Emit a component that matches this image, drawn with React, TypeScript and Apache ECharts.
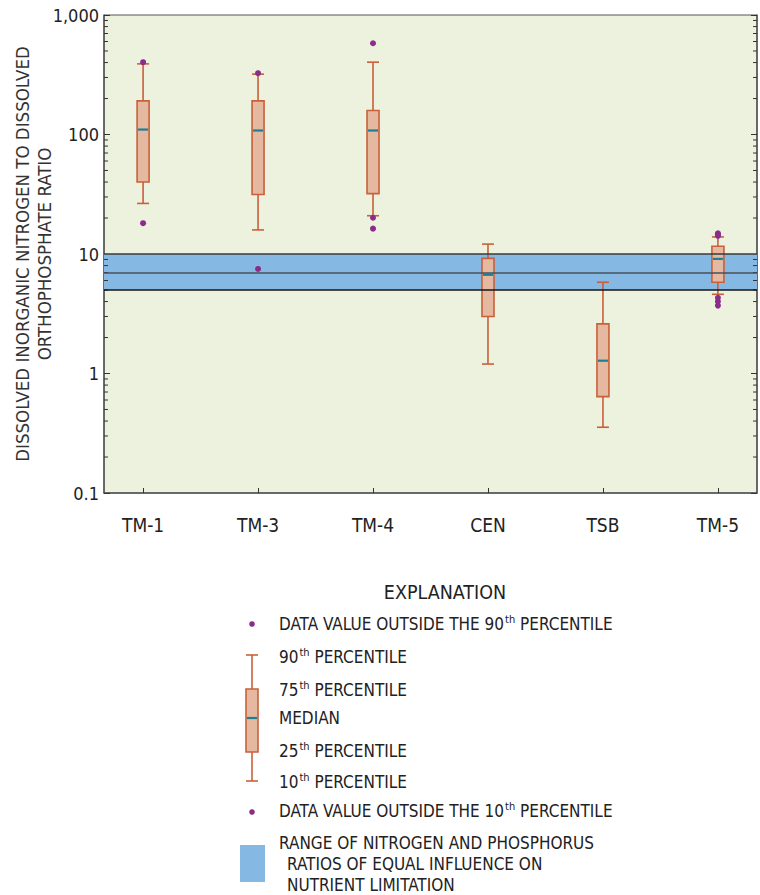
import React, { useEffect, useRef } from "react";
import * as echarts from "echarts";

const categories = ["TM-1", "TM-3", "TM-4", "CEN", "TSB", "TM-5"];
const p10 = [26.5, 15.9, 20.9, 1.2, 0.355, 4.6];
const p25 = [40, 31.5, 32, 3.0, 0.64, 5.8];
const medians = [110, 108, 108, 6.7, 1.28, 9.1];
const p75 = [191, 191, 159, 9.2, 2.6, 11.6];
const p90 = [390, 320, 403, 12.1, 5.8, 13.9];
// [category index, value]
const outliers: [number, number][] = [
  [0, 403], [0, 18.1],
  [1, 326], [1, 7.5],
  [2, 580], [2, 20.1], [2, 16.3],
  [5, 14.9], [5, 14.5], [5, 14.2], [5, 4.3], [5, 4.0], [5, 3.7],
];
const bandLow = 5;
const bandMid = 7;
const bandHigh = 10;
const yTickLabels: Record<string, string> = { "0.1": "0.1", "1": "1", "10": "10", "100": "100", "1000": "1,000" };

const FONT = "'Liberation Sans Narrow', 'DejaVu Sans Condensed', 'Roboto Condensed', 'Liberation Sans', sans-serif";
const BOX_FILL = "#e4b9a0";
const BOX_STROKE = "#c9603a";
const MEDIAN_C = "#1b7f98";
const DOT_C = "#8b2b8c";
const BAND_C = "#86b8e4";
const TXT = "#222";

const minorValues: number[] = [];
[0.1, 1, 10, 100].forEach((d) => {
  for (let m = 2; m <= 9; m++) minorValues.push(Number((m * d).toPrecision(3)));
});

export default function App() {
  const ref = useRef<HTMLDivElement>(null);
  useEffect(() => {
    if (!ref.current) return;
    const chart = echarts.init(ref.current, undefined, { renderer: "svg" });

    const boxData = categories.map((_, i) => [i + 1, p10[i], p25[i], medians[i], p75[i], p90[i]]);

    const legendX = 279;
    const sup = (a: string, b: string) => `{n|${a}}{s|th}{n|${b}}`;
    const rich = {
      n: { fontSize: 17, fontFamily: FONT, color: TXT },
      s: { fontSize: 11, fontFamily: FONT, color: TXT, padding: [0, 0, 9, 1] },
    };
    const legText = (y: number, text: string, x = legendX) => ({
      type: "text",
      x,
      y,
      style: { text, rich, font: `17px ${FONT}`, fill: TXT, textVerticalAlign: "middle", verticalAlign: "middle" },
    });

    const option: any = {
      animation: false,
      backgroundColor: "#ffffff",
      grid: {
        left: 104,
        top: 15,
        width: 653,
        height: 478,
        show: true,
        backgroundColor: "#ecf2de",
        borderColor: "#555",
        borderWidth: 1,
        containLabel: false,
        outerBoundsMode: "none",
      },
      xAxis: {
        type: "value",
        min: 0.66,
        max: 6.34,
        splitLine: { show: false },
        axisLine: { show: true, lineStyle: { color: "#555", width: 1.5 } },
        axisTick: {
          show: true,
          inside: true,
          length: 5,
          customValues: [1, 2, 3, 4, 5, 6],
          lineStyle: { color: "#333", width: 1 },
        },
        axisLabel: {
          customValues: [1, 2, 3, 4, 5, 6],
          formatter: (v: number) => categories[Math.round(v) - 1] || "",
          margin: 22,
          fontSize: 19,
          fontFamily: FONT,
          color: TXT,
        },
      },
      yAxis: [
        {
          type: "log",
          logBase: 10,
          min: 0.1,
          max: 1000,
          position: "left",
          name: "DISSOLVED INORGANIC NITROGEN TO DISSOLVED\nORTHOPHOSPHATE RATIO",
          nameLocation: "middle",
          nameRotate: 90,
          nameGap: 49,
          nameMoveOverlap: false,
          nameTextStyle: { fontSize: 18.5, fontFamily: FONT, color: "#333", lineHeight: 22 },
          splitLine: { show: false },
          axisLine: { show: true, lineStyle: { color: "#555", width: 1.5 } },
          axisTick: { show: true, inside: true, length: 6, lineStyle: { color: "#333" } },
          axisLabel: {
            formatter: (v: number) => yTickLabels[String(Number(v.toPrecision(3)))] ?? "",
            margin: 5,
            fontSize: 18,
            fontFamily: FONT,
            color: TXT,
          },
        },
        {
          type: "log",
          logBase: 10,
          min: 0.1,
          max: 1000,
          position: "right",
          splitLine: { show: false },
          axisLine: { show: true, lineStyle: { color: "#555", width: 1.5 } },
          axisTick: { show: true, inside: true, length: 6, lineStyle: { color: "#333" } },
          axisLabel: { show: false },
        },
      ],
      series: [
        {
          type: "line",
          data: [],
          z: 1,
          silent: true,
          markArea: {
            silent: true,
            itemStyle: { color: BAND_C, opacity: 1 },
            data: [[{ yAxis: bandHigh }, { yAxis: bandLow }]],
          },
          markLine: {
            silent: true,
            symbol: "none",
            label: { show: false },
            data: [
              { yAxis: bandHigh, lineStyle: { color: "#3a3a3a", width: 1.5, type: "solid" } },
              { yAxis: bandMid, lineStyle: { color: "#48515a", width: 1.5, type: "solid" } },
              { yAxis: bandLow, lineStyle: { color: "#151515", width: 1.5, type: "solid" } },
            ],
          },
        },
        {
          type: "custom",
          z: 2,
          silent: true,
          data: minorValues.map((v) => [1, v]),
          encode: { x: 0, y: 1 },
          renderItem: (params: any, api: any) => {
            const cs = params.coordSys;
            const y = api.coord([1, api.value(1)])[1];
            const style = { stroke: "#333", lineWidth: 1 };
            return {
              type: "group",
              children: [
                { type: "line", shape: { x1: cs.x, y1: y, x2: cs.x + 4, y2: y }, style },
                { type: "line", shape: { x1: cs.x + cs.width - 4, y1: y, x2: cs.x + cs.width, y2: y }, style },
              ],
            };
          },
        },
        {
          type: "custom",
          z: 3,
          data: boxData,
          encode: { x: 0, y: [1, 2, 3, 4, 5] },
          renderItem: (_params: any, api: any) => {
            const x = api.value(0);
            const pLo = api.coord([x, api.value(1)]);
            const pQ1 = api.coord([x, api.value(2)]);
            const pMed = api.coord([x, api.value(3)]);
            const pQ3 = api.coord([x, api.value(4)]);
            const pHi = api.coord([x, api.value(5)]);
            const cx = pMed[0];
            const hw = 6;
            const ws = { stroke: BOX_STROKE, lineWidth: 1.6 };
            return {
              type: "group",
              children: [
                { type: "line", shape: { x1: cx, y1: pHi[1], x2: cx, y2: pQ3[1] }, style: ws },
                { type: "line", shape: { x1: cx, y1: pQ1[1], x2: cx, y2: pLo[1] }, style: ws },
                { type: "line", shape: { x1: cx - hw, y1: pHi[1], x2: cx + hw, y2: pHi[1] }, style: ws },
                { type: "line", shape: { x1: cx - hw, y1: pLo[1], x2: cx + hw, y2: pLo[1] }, style: ws },
                {
                  type: "rect",
                  shape: { x: cx - hw, y: pQ3[1], width: hw * 2, height: pQ1[1] - pQ3[1] },
                  style: { fill: BOX_FILL, stroke: BOX_STROKE, lineWidth: 1.6 },
                },
                {
                  type: "line",
                  shape: { x1: cx - hw + 1, y1: pMed[1], x2: cx + hw - 1, y2: pMed[1] },
                  style: { stroke: MEDIAN_C, lineWidth: 2.2 },
                },
              ],
            };
          },
        },
        {
          type: "scatter",
          z: 4,
          symbol: "circle",
          symbolSize: 6,
          itemStyle: { color: DOT_C, opacity: 1 },
          data: outliers.map(([c, v]) => [c + 1, v]),
        },
      ],
      graphic: [
        {
          type: "text",
          x: 445,
          y: 592,
          style: { text: "EXPLANATION", font: `19.5px ${FONT}`, fill: TXT, textAlign: "center", textVerticalAlign: "middle", align: "center", verticalAlign: "middle" },
        },
        { type: "circle", shape: { cx: 252, cy: 624, r: 2.8 }, style: { fill: DOT_C } },
        legText(624, "{n|DATA VALUE OUTSIDE THE 90}{s|th}{n| PERCENTILE}"),
        // legend box glyph
        { type: "line", shape: { x1: 252, y1: 655, x2: 252, y2: 689 }, style: { stroke: BOX_STROKE, lineWidth: 1.6 } },
        { type: "line", shape: { x1: 252, y1: 752, x2: 252, y2: 781 }, style: { stroke: BOX_STROKE, lineWidth: 1.6 } },
        { type: "line", shape: { x1: 246, y1: 655, x2: 258, y2: 655 }, style: { stroke: BOX_STROKE, lineWidth: 1.6 } },
        { type: "line", shape: { x1: 246, y1: 781, x2: 258, y2: 781 }, style: { stroke: BOX_STROKE, lineWidth: 1.6 } },
        { type: "rect", shape: { x: 246, y: 689, width: 12, height: 63 }, style: { fill: BOX_FILL, stroke: BOX_STROKE, lineWidth: 1.6 } },
        { type: "line", shape: { x1: 247, y1: 718, x2: 257, y2: 718 }, style: { stroke: MEDIAN_C, lineWidth: 2.2 } },
        legText(657, sup("90", " PERCENTILE")),
        legText(690, sup("75", " PERCENTILE")),
        legText(718, "{n|MEDIAN}"),
        legText(751, sup("25", " PERCENTILE")),
        legText(782, sup("10", " PERCENTILE")),
        { type: "circle", shape: { cx: 252, cy: 812, r: 2.8 }, style: { fill: DOT_C } },
        legText(811, "{n|DATA VALUE OUTSIDE THE 10}{s|th}{n| PERCENTILE}"),
        { type: "rect", shape: { x: 240, y: 845, width: 25, height: 37 }, style: { fill: BAND_C } },
        legText(843, "{n|RANGE OF NITROGEN AND PHOSPHORUS}"),
        legText(864, "{n|RATIOS OF EQUAL INFLUENCE ON}", 287),
        legText(885, "{n|NUTRIENT LIMITATION}", 287),
      ],
    };
    chart.setOption(option);
    return () => chart.dispose();
  }, []);
  return <div ref={ref} style={{ width: 760, height: 895, position: "absolute", left: 0, top: 0 }} />;
}
